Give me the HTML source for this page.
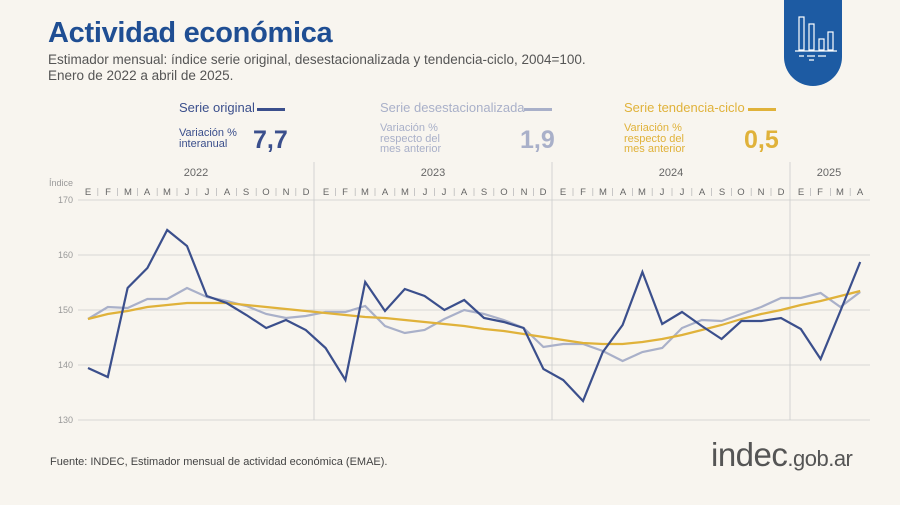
<!DOCTYPE html>
<html><head><meta charset="utf-8"><style>
body{margin:0;width:900px;height:505px;background:#f8f5ef;font-family:"Liberation Sans",sans-serif;overflow:hidden;position:relative}
.t{position:absolute;white-space:nowrap}
</style></head><body>
<div class="t" style="left:48px;top:17px;font-size:29px;font-weight:bold;color:#1f4e93;letter-spacing:-0.3px">Actividad económica</div>
<div class="t" style="left:48px;top:52px;font-size:13.5px;color:#555;line-height:16px">Estimador mensual: índice serie original, desestacionalizada y tendencia-ciclo, 2004=100.<br>Enero de 2022 a abril de 2025.</div>
<svg style="position:absolute;left:784px;top:0" width="58" height="86"><path d="M0 0H58V57A29 29 0 0 1 0 57Z" fill="#1d5ba3"/>
<g stroke="#fff" fill="none" stroke-width="1.2"><rect x="15" y="17" width="5" height="33"/><rect x="25" y="24" width="5" height="26"/><rect x="35" y="39" width="5" height="11"/><rect x="44" y="32" width="5" height="18"/><path d="M11 51H53M15 56h5M23 56h8M34 56h8M25 60h5"/></g></svg>
<div class="t" style="left:179px;top:100px;font-size:13px;color:#3b4f8c">Serie original</div>
<div style="position:absolute;left:257px;top:108px;width:28px;height:3px;background:#3b4f8c"></div>
<div class="t" style="left:179px;top:128px;font-size:11px;line-height:11px;color:#3b4f8c">Variación %<br>interanual</div>
<div class="t" style="left:253px;top:126px;font-size:25px;font-weight:bold;color:#3b4f8c">7,7</div>
<div class="t" style="left:380px;top:100px;font-size:13px;color:#a9b0c9">Serie desestacionalizada</div>
<div style="position:absolute;left:524px;top:108px;width:28px;height:3px;background:#a9b0c9"></div>
<div class="t" style="left:380px;top:123px;font-size:11px;line-height:10.5px;color:#a9b0c9">Variación %<br>respecto del<br>mes anterior</div>
<div class="t" style="left:520px;top:126px;font-size:25px;font-weight:bold;color:#a9b0c9">1,9</div>
<div class="t" style="left:624px;top:100px;font-size:13px;color:#e0b23a">Serie tendencia-ciclo</div>
<div style="position:absolute;left:748px;top:108px;width:28px;height:3px;background:#e0b23a"></div>
<div class="t" style="left:624px;top:123px;font-size:11px;line-height:10.5px;color:#e0b23a">Variación %<br>respecto del<br>mes anterior</div>
<div class="t" style="left:744px;top:126px;font-size:25px;font-weight:bold;color:#e0b23a">0,5</div>
<svg style="position:absolute;left:0;top:0" width="900" height="505" font-family="Liberation Sans, sans-serif">
<g stroke="#ccc" stroke-width="0.8">
<line x1="78" y1="200" x2="870" y2="200"/><line x1="78" y1="255" x2="870" y2="255"/><line x1="78" y1="310" x2="870" y2="310"/><line x1="78" y1="365" x2="870" y2="365"/><line x1="78" y1="420" x2="870" y2="420"/>
<line x1="314" y1="162" x2="314" y2="420"/><line x1="552" y1="162" x2="552" y2="420"/><line x1="790" y1="162" x2="790" y2="420"/>
</g>
<g font-size="11" fill="#666" text-anchor="middle"><text x="196" y="176">2022</text><text x="433" y="176">2023</text><text x="671" y="176">2024</text><text x="829" y="176">2025</text></g>
<g font-size="9" fill="#999" text-anchor="end"><text x="73" y="186">Índice</text><text x="73" y="203">170</text><text x="73" y="258">160</text><text x="73" y="313">150</text><text x="73" y="368">140</text><text x="73" y="423">130</text></g>
<g font-size="9.5" fill="#666" text-anchor="middle" id="m">
<text x="88" y="195">E</text><text x="108" y="195">F</text><text x="128" y="195">M</text><text x="147" y="195">A</text><text x="167" y="195">M</text><text x="187" y="195">J</text><text x="207" y="195">J</text><text x="227" y="195">A</text><text x="246" y="195">S</text><text x="266" y="195">O</text><text x="286" y="195">N</text><text x="306" y="195">D</text>
<text x="326" y="195">E</text><text x="345" y="195">F</text><text x="365" y="195">M</text><text x="385" y="195">A</text><text x="405" y="195">M</text><text x="425" y="195">J</text><text x="444" y="195">J</text><text x="464" y="195">A</text><text x="484" y="195">S</text><text x="504" y="195">O</text><text x="524" y="195">N</text><text x="543" y="195">D</text>
<text x="563" y="195">E</text><text x="583" y="195">F</text><text x="603" y="195">M</text><text x="623" y="195">A</text><text x="642" y="195">M</text><text x="662" y="195">J</text><text x="682" y="195">J</text><text x="702" y="195">A</text><text x="722" y="195">S</text><text x="741" y="195">O</text><text x="761" y="195">N</text><text x="781" y="195">D</text>
<text x="801" y="195">E</text><text x="820" y="195">F</text><text x="840" y="195">M</text><text x="860" y="195">A</text>
</g>
<g id="ticks" stroke="#bbb" stroke-width="0.8"></g>
<polyline id="d" fill="none" stroke="#a9b0c9" stroke-width="2.2"/>
<polyline id="tr" fill="none" stroke="#e0b23a" stroke-width="2.2"/>
<polyline id="o" fill="none" stroke="#3b4f8c" stroke-width="2.2"/>
</svg>
<div class="t" style="left:50px;top:456px;font-size:11px;color:#444">Fuente: INDEC, Estimador mensual de actividad económica (EMAE).</div>
<div class="t" style="left:711px;top:436px;font-size:33px;color:#555;letter-spacing:-0.5px">indec<span style="font-size:22px">.gob.ar</span></div>
<script>
var O=[368,377,288,268,230,246,296,303,315,328,320,330,348,380,282,311,289,296,310,300,318,322,328,369,380,401,352,325,272,324,312,326,339,321,321,318,329,359,311,262];
var D=[319,307,308,299,299,288,297,301,306,314,318,316,312,312,306,326,333,330,319,310,314,320,328,347,344,344,351,361,352,348,328,320,321,314,307,298,298,293,307,292];
var T=[319,314,311,307,305,303,303,303,305,307,309,311,313,315,317,318,320,322,324,326,329,331,334,337,340,343,344,344,342,339,335,330,325,319,314,310,305,301,296,291];
function p(a){return a.map(function(y,i){return (88+i*19.8).toFixed(1)+","+y}).join(" ")}
document.getElementById("o").setAttribute("points",p(O));
document.getElementById("d").setAttribute("points",p(D));
document.getElementById("tr").setAttribute("points",p(T));
var g=document.getElementById("ticks"),s="";
for(var i=0;i<40;i++){var x=78+i*19.8;if(i%12)s+='<line x1="'+x+'" y1="188" x2="'+x+'" y2="196"/>';}
g.innerHTML=s;
</script>
</body></html>
